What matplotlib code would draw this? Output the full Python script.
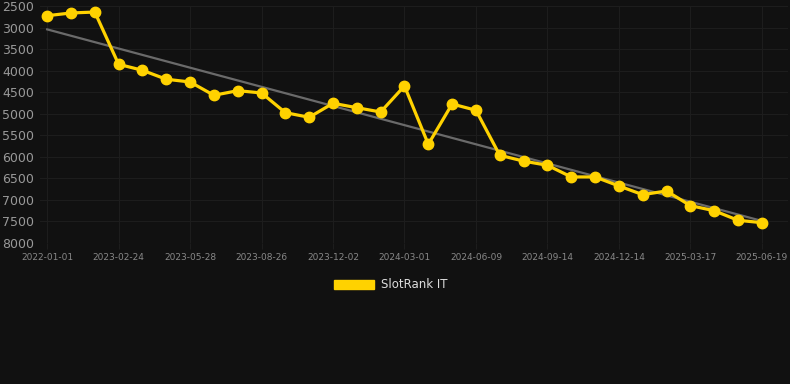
import numpy as np
import matplotlib
matplotlib.use("Agg")
import matplotlib.pyplot as plt
from matplotlib.patches import Patch

# rank values (lower is better, axis inverted)
ranks = [2725, 2662, 2640, 3853, 3992, 4200, 4263, 4572, 4465, 4518,
         4975, 5083, 4758, 4860, 4960, 4356, 5709, 4774, 4920, 5964,
         6100, 6196, 6467, 6467, 6676, 6878, 6792, 7133, 7250, 7473, 7528]
tick_labels = ["2022-01-01", "2023-02-24", "2023-05-28", "2023-08-26",
               "2023-12-02", "2024-03-01", "2024-06-09", "2024-09-14",
               "2024-12-14", "2025-03-17", "2025-06-19"]
label_step = 3
series_name = "SlotRank IT"

BG = "#111111"
GOLD = "#ffd200"

x = np.arange(len(ranks))
slope, icpt = np.polyfit(x, ranks, 1)
trend = slope * x + icpt

fig = plt.figure(figsize=(7.9, 3.84), dpi=100, facecolor=BG)
ax = fig.add_axes([40 / 790, 1 - 243 / 384, 748 / 790, 237 / 384])
ax.set_facecolor(BG)

ax.plot(x, trend, color="#6a6a6a", lw=1.6, zorder=2)
ax.plot(x, ranks, color=GOLD, lw=2.3, marker="o", ms=7.5, zorder=3)

ax.set_ylim(8000, 2500)
ax.set_yticks(np.arange(2500, 8001, 500))
ax.set_xlim(-0.3, 31.1)
ax.set_xticks(x[::label_step])
ax.set_xticklabels(tick_labels)

ax.grid(True, color="#1d1d1d", lw=0.8)
ax.set_axisbelow(True)
for s in ax.spines.values():
    s.set_visible(False)
ax.tick_params(axis="y", colors="#999999", labelsize=9, length=0, pad=4)
ax.tick_params(axis="x", colors="#888888", labelsize=6.5, length=4,
               color="#1d1d1d", pad=3)

leg = fig.legend(handles=[Patch(facecolor=GOLD, edgecolor=GOLD, label=series_name)],
                 loc="center", bbox_to_anchor=(0.495, 1 - 285 / 384), frameon=False,
                 handlelength=3.4, handleheight=0.9, handletextpad=0.6,
                 fontsize=8.5, labelcolor="#dddddd")

fig.savefig("out.png", dpi=100, facecolor=BG)
